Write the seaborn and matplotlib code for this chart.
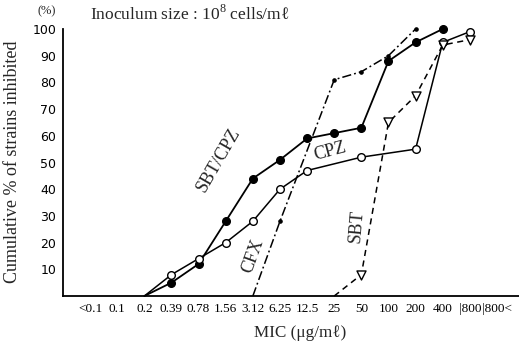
import matplotlib
matplotlib.use("Agg")
import matplotlib.pyplot as plt
import seaborn as sns
import pandas as pd

# ---- data -------------------------------------------------------------
categories = ["<0.1", "0.1", "0.2", "0.39", "0.78", "1.56", "3.12", "6.25",
              "12.5", "25", "50", "100", "200", "400", "|800", "|800<"]

sbtcpz_x = ["0.2", "0.39", "0.78", "1.56", "3.12", "6.25", "12.5", "25", "50", "100", "200", "400"]
sbtcpz_y = [0, 5, 12, 28, 44, 51, 59, 61, 63, 88, 95, 100]

cpz_x = ["0.2", "0.39", "0.78", "1.56", "3.12", "6.25", "12.5", "50", "200", "400", "|800"]
cpz_y = [0, 8, 14, 20, 28, 40, 47, 52, 55, 95, 99]

cfx_x = ["3.12", "6.25", "25", "50", "100", "200"]
cfx_y = [0, 28, 81, 84, 90, 100]

sbt_x = ["25", "50", "100", "200", "400", "|800"]
sbt_y = [0, 8, 65, 75, 94, 96]

y_ticks = [10, 20, 30, 40, 50, 60, 70, 80, 90, 100]

# ---- style ------------------------------------------------------------
sns.set_theme(style="white")
plt.rcParams["font.family"] = ["Liberation Serif", "DejaVu Serif"]
plt.rcParams["mathtext.fontset"] = "custom"
plt.rcParams["mathtext.rm"] = "Liberation Serif"

W, H = 519, 350
fig = plt.figure(figsize=(W / 100, H / 100), dpi=100)
left, right, bottom = 63, 519, 296
px_per_unit = (296 - 29) / 100.0
ytop = 102
top_px = bottom - ytop * px_per_unit
ax = fig.add_axes([left / W, 1 - bottom / H, (right - left) / W, (bottom - top_px) / H])

pos = {c: i for i, c in enumerate(categories)}


def frame(xs, ys, name):
    return pd.DataFrame({"x": [pos[c] for c in xs], "y": ys, "series": name})


series = [
    (frame(sbtcpz_x, sbtcpz_y, "SBT/CPZ"), "-", "o", "black", 5.5, 1.3),
    (frame(cpz_x, cpz_y, "CPZ"), "-", "o", "white", 5.5, 1.1),
    (frame(cfx_x, cfx_y, "CFX"), (0, (6, 2, 1.2, 2)), "o", "black", 2.3, 1.1),
    (frame(sbt_x, sbt_y, "SBT"), (0, (4, 3)), "v", "white", 6.5, 1.1),
]

for df, ls, mk, fc, ms, lw in series:
    sns.lineplot(data=df, x="x", y="y", ax=ax, color="black", linestyle=ls,
                 linewidth=lw, sort=False, legend=False, clip_on=False)
    pts = df[df["y"] > 0]
    sns.scatterplot(data=pts, x="x", y="y", ax=ax, marker=mk, s=ms ** 2,
                    facecolor=fc, edgecolor="black", linewidth=1.0,
                    legend=False, zorder=5, clip_on=False)

ax.set_xlim(-1, (right - 90) / 27.13)
ax.set_ylim(0, ytop)
ax.set_xticks(range(len(categories)))
ax.set_xticklabels(categories, fontsize=9.5)
ax.set_yticks(y_ticks)
ax.set_yticklabels([str(v) for v in y_ticks], fontsize=9, family="DejaVu Sans")
ax.set_xlabel("")
ax.set_ylabel("")
for s in ["top", "right"]:
    ax.spines[s].set_visible(False)
for s in ["left", "bottom"]:
    ax.spines[s].set_color("black")
    ax.spines[s].set_linewidth(1.3)
ax.spines["left"].set_bounds(0, 100)
ax.tick_params(axis="x", direction="in", length=4, width=1, colors="black", pad=5)
ax.tick_params(axis="y", direction="out", length=4, width=1, colors="black", pad=1)
ax.grid(False)

# curve labels
ax.text(4.72, 51, "SBT/CPZ", rotation=60, ha="center", va="center", fontsize=13)
ax.text(8.85, 54, "CPZ", rotation=15, ha="center", va="center", fontsize=13)
ax.text(6.0, 15, "CFX", rotation=70, ha="center", va="center", fontsize=13)
ax.text(9.83, 26, "SBT", rotation=85, ha="center", va="center", fontsize=13)

# figure texts
fig.text(90 / W, 1 - 14 / H, "Inoculum size : 10$^{8}$ cells/mℓ", ha="left",
         va="center", fontsize=12.5)
fig.text(47 / W, 1 - 11 / H, "(%)", ha="center", va="center", fontsize=9)
fig.text(13 / W, 1 - 162 / H, "Cumulative % of strains inhibited", rotation=90,
         ha="center", va="center", fontsize=13)
fig.text(300 / W, 1 - 333 / H, "MIC (μg/mℓ)", ha="center", va="center", fontsize=12.3)

fig.savefig("out.png", dpi=100)
